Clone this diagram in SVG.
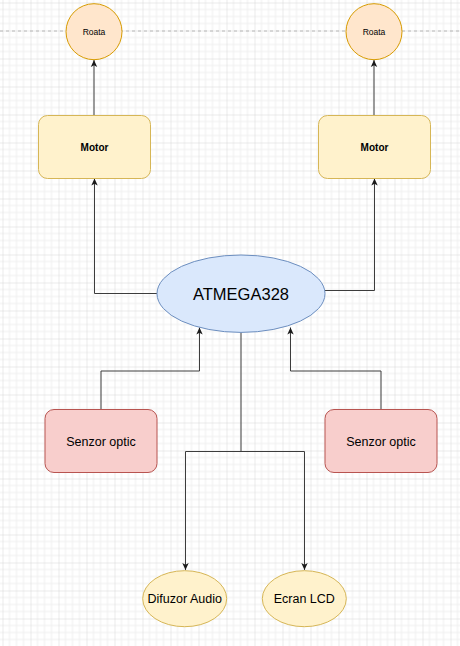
<svg xmlns="http://www.w3.org/2000/svg" width="460" height="646" viewBox="0 0 460 646">
<style>
.lbl{font-family:"Liberation Sans",Arial,sans-serif;fill:#000;text-anchor:middle;dominant-baseline:central}
.edge{fill:none;stroke:#3c3c3c;stroke-width:1}
.roata{fill:#ffe6cc;stroke:#d79b00;stroke-width:1}
.motor{fill:#fff2cc;stroke:#d6b656;stroke-width:1}
.senzor{fill:#f8cecc;stroke:#b85450;stroke-width:1}
.mcu{fill:#dae8fc;stroke:#6c8ebf;stroke-width:1}
</style>
<defs>
<pattern id="grid" patternUnits="userSpaceOnUse" x="2.5" y="2.5" width="28" height="28">
<path d="M7 0V28M14 0V28M21 0V28M0 7H28M0 14H28M0 21H28" stroke="#efefef" stroke-width="1" fill="none"/>
<path d="M0 0V28M0 0H28" stroke="#d6d6d6" stroke-width="1" fill="none"/>
</pattern>
<marker id="arr" markerUnits="userSpaceOnUse" markerWidth="8" markerHeight="8" refX="7" refY="4" orient="auto">
<path d="M0,0.8 L7,4 L0,7.2 L1.8,4 Z" fill="#1a1a1a"/>
</marker>
</defs>
<rect width="460" height="646" fill="#ffffff"/>
<rect width="460" height="646" fill="url(#grid)"/>
<line x1="0" y1="31" x2="460" y2="31" stroke="#b8b8b8" stroke-width="1" stroke-dasharray="3 3"/>

<g id="connectors">
<path class="edge" d="M94 115V60" marker-end="url(#arr)"/>
<path class="edge" d="M374 115V60" marker-end="url(#arr)"/>
<path class="edge" d="M157 293.5H94.5V178.5" marker-end="url(#arr)"/>
<path class="edge" d="M325 290.5H374.5V178.5" marker-end="url(#arr)"/>
<path class="edge" d="M101 409.5V371H199.5V327.5" marker-end="url(#arr)"/>
<path class="edge" d="M381 409.5V371H290.5V327.5" marker-end="url(#arr)"/>
<path class="edge" d="M241 332.5V451.5H185.5V570" marker-end="url(#arr)"/>
<path class="edge" d="M241 451.5H304.5V570" marker-end="url(#arr)"/>
</g>

<g id="roata-left">
<circle class="roata" cx="94" cy="31.7" r="28"/>
<text class="lbl" x="94" y="32" font-size="8.5">Roata</text>
</g>
<g id="roata-right">
<circle class="roata" cx="374" cy="31.7" r="28"/>
<text class="lbl" x="374" y="32" font-size="8.5">Roata</text>
</g>
<g id="motor-left">
<rect class="motor" x="38.5" y="115.5" width="112" height="63" rx="9"/>
<text class="lbl" x="94.5" y="147" font-size="10" font-weight="bold">Motor</text>
</g>
<g id="motor-right">
<rect class="motor" x="318.5" y="115.5" width="112" height="63" rx="9"/>
<text class="lbl" x="374.5" y="147" font-size="10" font-weight="bold">Motor</text>
</g>
<g id="atmega">
<ellipse class="mcu" cx="241" cy="293.7" rx="84" ry="38.7"/>
<text class="lbl" x="241" y="294" font-size="16.5">ATMEGA328</text>
</g>
<g id="senzor-left">
<rect class="senzor" x="45" y="409.5" width="112" height="63" rx="9"/>
<text class="lbl" x="101" y="441.5" font-size="12.5">Senzor optic</text>
</g>
<g id="senzor-right">
<rect class="senzor" x="325" y="409.5" width="112" height="63" rx="9"/>
<text class="lbl" x="381" y="441.5" font-size="12.5">Senzor optic</text>
</g>
<g id="difuzor">
<ellipse class="motor" cx="184.7" cy="598.7" rx="42" ry="28"/>
<text class="lbl" x="184.7" y="598.5" font-size="12.5">Difuzor Audio</text>
</g>
<g id="ecran">
<ellipse class="motor" cx="304.3" cy="598.7" rx="42" ry="28"/>
<text class="lbl" x="304.3" y="598.5" font-size="12.5">Ecran LCD</text>
</g>
</svg>
